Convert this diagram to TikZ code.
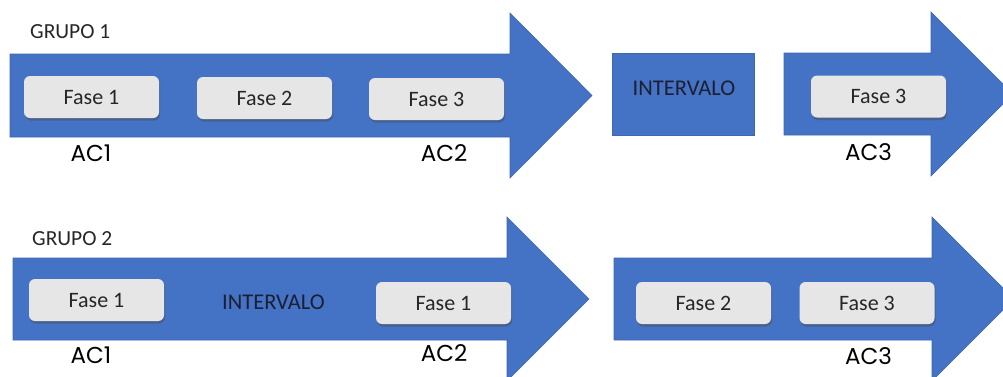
\documentclass[tikz,border=0pt]{standalone}
\usepackage{fontspec}
\setmainfont{Carlito}
\newfontfamily\acfont{Poppins}
\usetikzlibrary{shadows}
\definecolor{arrowblue}{HTML}{4472C4}
\definecolor{phasegray}{HTML}{E7E6E6}
\definecolor{phasetext}{HTML}{262626}
\definecolor{navytext}{HTML}{1C1F33}
\tikzset{
  bigarrow/.style={fill=arrowblue, draw=arrowblue!90!black, line width=0.6pt},
  phase/.style={rounded corners=6pt, fill=phasegray, draw=none,
    minimum width=135pt, minimum height=42pt, inner sep=0pt,
    text=phasetext, font=\fontsize{22}{26}\selectfont,
    drop shadow={shadow xshift=1pt, shadow yshift=-2.5pt, opacity=0.45, fill=black!70}},
  grouplabel/.style={anchor=west, inner sep=0pt, text=black!85, font=\fontsize{21.5}{26}\selectfont},
  aclabel/.style={inner sep=0pt, text=black, font=\acfont\fontsize{23}{27}\selectfont},
  gaplabel/.style={inner sep=0pt, text=navytext, font=\fontsize{22.5}{26}\selectfont}
}
\begin{document}
\begin{tikzpicture}[x=1pt, y=-1pt]
\useasboundingbox (0,0) rectangle (1003,376);
\clip (0,0) rectangle (1003,376);

% ---- Grupo 1 ----
\node[grouplabel] (g1) at (30,32) {GRUPO 1};
\draw[bigarrow] (10,54) -- (510,54) -- (510,13) -- (592,95.5) -- (510,178) -- (510,137) -- (10,137) -- cycle;
\node[phase] (g1f1) at (91.5,97) {Fase 1};
\node[phase] (g1f2) at (264.5,98) {Fase 2};
\node[phase] (g1f3) at (436.5,99) {Fase 3};
\node[aclabel] (g1ac1) at (91,153) {AC1};
\node[aclabel] (g1ac2) at (444,153) {AC2};

\draw[bigarrow] (612,53) rectangle (754,135);
\node[gaplabel] (g1gap) at (684,88) {INTERVALO};

\draw[bigarrow] (784,53) -- (931,53) -- (931,12) -- (1013,94) -- (931,176) -- (931,135) -- (784,135) -- cycle;
\node[phase] (g1f3b) at (878.5,96.5) {Fase 3};
\node[aclabel] (g1ac3) at (868.5,152) {AC3};

% ---- Grupo 2 ----
\node[grouplabel] (g2) at (32,239) {GRUPO 2};
\draw[bigarrow] (13,258) -- (507,258) -- (507,217) -- (589,299) -- (507,381) -- (507,340) -- (13,340) -- cycle;
\node[phase] (g2f1) at (96.5,300) {Fase 1};
\node[gaplabel] (g2gap) at (273.5,302) {INTERVALO};
\node[phase] (g2f1b) at (443.5,303) {Fase 1};
\node[aclabel] (g2ac1) at (91,355) {AC1};
\node[aclabel] (g2ac2) at (444,353) {AC2};

\draw[bigarrow] (614,258) -- (932,258) -- (932,217) -- (1014,299) -- (932,381) -- (932,340) -- (614,340) -- cycle;
\node[phase] (g2f2) at (703.5,303) {Fase 2};
\node[phase] (g2f3) at (867,303) {Fase 3};
\node[aclabel] (g2ac3) at (868.5,356) {AC3};
\end{tikzpicture}
\end{document}
